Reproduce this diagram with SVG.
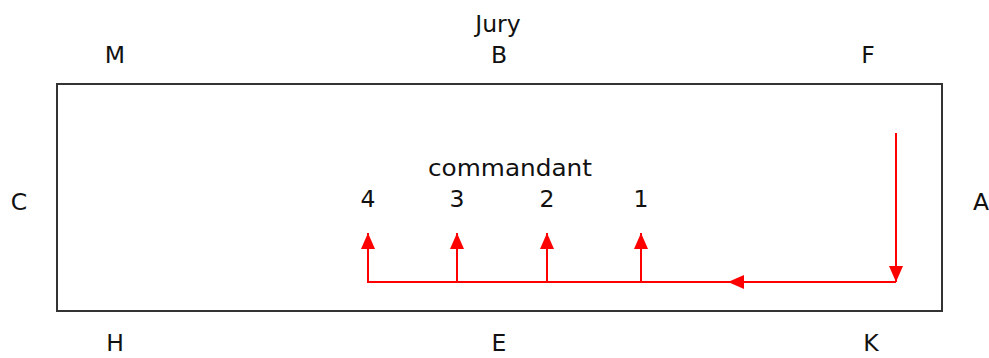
<svg xmlns="http://www.w3.org/2000/svg" width="989" height="358" viewBox="0 0 989 358">
<style>
text{font-family:"DejaVu Sans","Liberation Sans",sans-serif;font-size:23.5px;fill:#111;text-anchor:middle}
.r{stroke:#ff0000;stroke-width:2;fill:none}
</style>
<defs>
<marker id="ah" markerUnits="userSpaceOnUse" markerWidth="16" markerHeight="16" viewBox="0 0 16 16" refX="16" refY="8" orient="auto">
<polygon points="0,1 16,8 0,15" fill="#ff0000"/>
</marker>
</defs>
<rect x="57" y="84" width="885" height="227" fill="#fff" stroke="#333" stroke-width="2"/>
<g id="labels">
<text x="498" y="32">Jury</text>
<text x="115" y="63">M</text>
<text x="499" y="63">B</text>
<text x="868" y="63">F</text>
<text x="19" y="210">C</text>
<text x="981" y="210">A</text>
<text x="115" y="351">H</text>
<text x="499" y="351">E</text>
<text x="871" y="351">K</text>
<text x="510" y="176" textLength="164" lengthAdjust="spacingAndGlyphs">commandant</text>
<text x="368" y="207">4</text>
<text x="457" y="207">3</text>
<text x="547" y="207">2</text>
<text x="641" y="207">1</text>
</g>
<g id="connectors">
<path class="r" d="M896,133 V282" marker-end="url(#ah)"/>
<path class="r" d="M896,282 H728" marker-end="url(#ah)"/>
<path class="r" d="M728,282 H368"/>
<path class="r" d="M368,283 V233" stroke-width="3" marker-end="url(#ah)"/>
<path class="r" d="M457,282 V233" marker-end="url(#ah)"/>
<path class="r" d="M547,282 V233" marker-end="url(#ah)"/>
<path class="r" d="M641,282 V233" marker-end="url(#ah)"/>
</g>
</svg>
